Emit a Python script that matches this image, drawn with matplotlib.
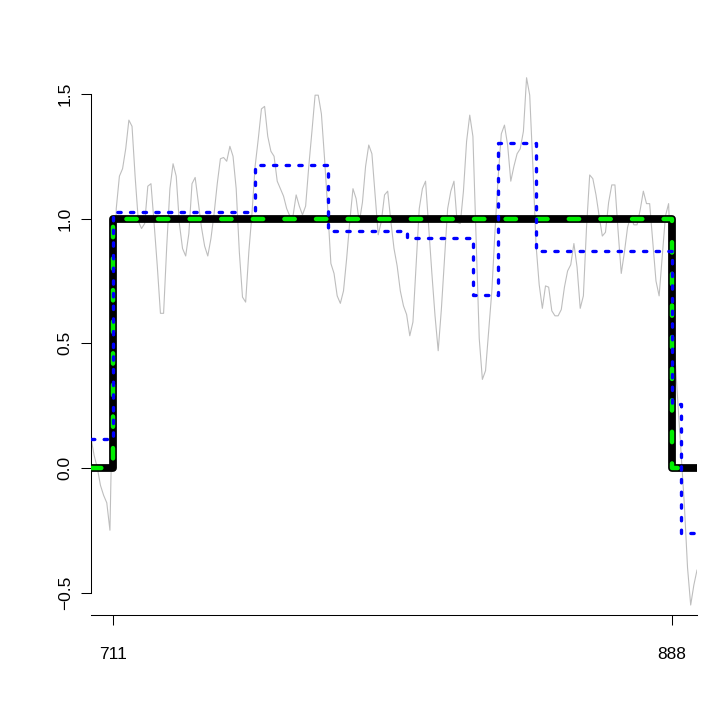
import matplotlib
matplotlib.use('Agg')

import matplotlib.pyplot as plt

# observed series, one value per position 704..896
gray_x = list(range(704, 897))
gray_y = [
    0.12, 0.05, 0.0, -0.07, -0.11, -0.14, -0.25, 0.40, 1.04, 1.17,
    1.20, 1.28, 1.395, 1.37, 1.165, 0.99, 0.96, 0.98, 1.13, 1.14,
    0.98, 0.81, 0.62, 0.62, 0.89, 1.12, 1.22, 1.17, 0.98, 0.88,
    0.85, 0.94, 1.14, 1.165, 1.065, 0.965, 0.89, 0.85, 0.92, 1.02,
    1.14, 1.24, 1.245, 1.23, 1.29, 1.25, 1.12, 0.865, 0.685, 0.665,
    0.865, 1.02, 1.21, 1.32, 1.44, 1.45, 1.33, 1.27, 1.25, 1.15,
    1.12, 1.09, 1.04, 1.01, 1.01, 1.095, 1.05, 1.015, 1.05, 1.21,
    1.35, 1.495, 1.495, 1.42, 1.24, 1.04, 0.82, 0.78, 0.69, 0.66,
    0.71, 0.84, 0.99, 1.12, 1.08, 0.985, 1.065, 1.21, 1.295, 1.26,
    1.095, 0.935, 0.99, 1.095, 1.11, 0.99, 0.88, 0.81, 0.71, 0.65,
    0.615, 0.53, 0.585, 0.81, 1.04, 1.12, 1.15, 0.965, 0.78, 0.61,
    0.47, 0.635, 0.835, 1.04, 1.11, 1.15, 0.985, 0.98, 1.11, 1.31,
    1.415, 1.33, 0.92, 0.52, 0.355, 0.39, 0.55, 0.71, 0.95, 1.165,
    1.34, 1.375, 1.295, 1.15, 1.21, 1.26, 1.28, 1.35, 1.565, 1.495,
    1.21, 0.895, 0.735, 0.64, 0.73, 0.725, 0.63, 0.61, 0.61, 0.635,
    0.725, 0.79, 0.815, 0.9, 0.805, 0.64, 0.69, 0.965, 1.175, 1.16,
    1.095, 1.01, 0.93, 0.945, 1.065, 1.135, 1.135, 0.95, 0.78, 0.865,
    0.965, 1.01, 0.975, 0.975, 1.035, 1.11, 1.06, 1.06, 0.905, 0.75,
    0.69, 0.85, 1.01, 1.06, 0.75, 0.45, 0.25, 0.05, -0.15, -0.40,
    -0.55, -0.47, -0.41,
]

# true signal (step)
truth_edges = [704, 711, 888, 896]
truth_levels = [0, 1, 0]

# fitted piecewise-constant estimate
fit_edges = [704, 711, 756, 779, 804, 825, 833, 845, 888, 891, 896]
fit_levels = [0.115, 1.025, 1.215, 0.949, 0.922, 0.694, 1.305, 0.869, 0.255, -0.26]

x_ticks = [711, 888]
y_ticks = [-0.5, 0.0, 0.5, 1.0, 1.5]
y_tick_labels = ["\u22120.5", "0.0", "0.5", "1.0", "1.5"]

plt.rcParams["font.family"] = ["Liberation Sans", "DejaVu Sans"]

fig = plt.figure(figsize=(7.06, 7.06), dpi=100)
ax = fig.add_axes([91 / 706, 91 / 706, 606 / 706, 546 / 706])

ax.plot(gray_x, gray_y, color="#BEBEBE", lw=0.8, zorder=1)

ax.step(truth_edges, truth_levels + truth_levels[-1:], where="post",
        color="black", lw=5.6, solid_joinstyle="round", solid_capstyle="round",
        zorder=2)
ax.step(truth_edges, truth_levels + truth_levels[-1:], where="post",
        color="#00EE00", lw=3.2, dashes=(2.33, 4.78),
        dash_capstyle="round", dash_joinstyle="round", zorder=3)
ax.step(fit_edges, fit_levels + fit_levels[-1:], where="post",
        color="#0000FF", lw=2.4, dashes=(1.0, 2.8),
        dash_capstyle="round", dash_joinstyle="round", zorder=4)

ax.set_xlim(704, 896)
ax.set_ylim(-0.59, 1.6)

ax.set_xticks(x_ticks)
ax.set_xticklabels([str(t) for t in x_ticks])
ax.set_yticks(y_ticks)
ax.set_yticklabels(y_tick_labels, rotation=90, va="center")

ax.tick_params(axis="both", length=7.2, width=0.75, labelsize=12.5,
               colors="black")
ax.tick_params(axis="x", pad=16)
ax.tick_params(axis="y", pad=6)

ax.spines["top"].set_visible(False)
ax.spines["right"].set_visible(False)
ax.spines["left"].set_bounds(-0.5, 1.5)
for s in ("left", "bottom"):
    ax.spines[s].set_linewidth(0.75)

fig.savefig("out.png", dpi=100)
plt.close(fig)
